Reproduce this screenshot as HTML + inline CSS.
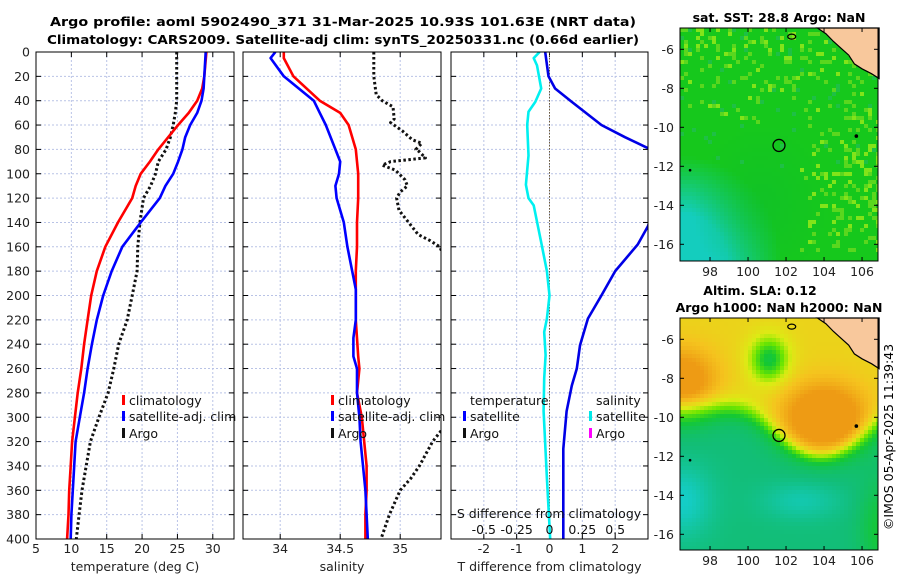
<!DOCTYPE html>
<html><head><meta charset="utf-8"><style>
html,body{margin:0;padding:0;background:#fff;}
svg{display:block;font-family:"DejaVu Sans","Liberation Sans",sans-serif;}
</style></head><body>
<svg id="fig" width="900" height="580" viewBox="0 0 900 580" xmlns="http://www.w3.org/2000/svg">
<text x="343" y="26" text-anchor="middle" font-size="12.5" font-weight="bold" textLength="586" lengthAdjust="spacingAndGlyphs">Argo profile: aoml 5902490_371 31-Mar-2025 10.93S 101.63E (NRT data)</text>
<text x="343" y="44" text-anchor="middle" font-size="12.5" font-weight="bold" textLength="592" lengthAdjust="spacingAndGlyphs">Climatology: CARS2009. Satellite-adj clim: synTS_20250331.nc (0.66d earlier)</text>
<text x="779" y="22" text-anchor="middle" font-size="12.5" font-weight="bold">sat. SST: 28.8 Argo: NaN</text>
<text x="760" y="295" text-anchor="middle" font-size="12.5" font-weight="bold">Altim. SLA: 0.12</text>
<text x="779" y="312" text-anchor="middle" font-size="12.5" font-weight="bold">Argo h1000: NaN h2000: NaN</text>
<text transform="translate(893,437) rotate(-90)" text-anchor="middle" font-size="12.5">©IMOS 05-Apr-2025 11:39:43</text>
<g id="layer"></g>
</svg>
<script>
// ---------- data (depth in m) ----------
const depthT = [0,20,30,40,50,60,70,80,90,100,110,120,140,160,180,200,220,240,260,280,300,320,340,360,380,400];
const tempClim = [29.1,28.8,28.5,27.8,26.6,25.1,23.7,22.3,21.1,19.8,19.1,18.6,16.6,14.8,13.6,12.8,12.3,11.8,11.4,10.9,10.5,10.1,9.9,9.7,9.6,9.4];
const tempSat  = [29.0,28.8,28.7,28.4,27.8,26.8,26.1,25.7,25.1,24.4,23.3,22.5,19.8,17.2,15.7,14.5,13.6,12.9,12.3,11.8,11.2,10.6,10.4,10.2,10.0,9.9];
const tempArgo = [24.9,24.9,24.9,24.9,24.7,24.4,24.0,23.4,22.3,21.9,21.2,20.2,19.7,19.4,19.3,18.6,17.9,16.7,16.0,15.2,13.9,12.7,12.1,11.5,11.1,10.7];

const depthS = [0,5,20,40,50,60,80,90,100,110,120,140,160,180,195,210,220,235,250,260,280,300,320,340,360,380,400];
const salClim = [34.03,34.03,34.11,34.33,34.50,34.57,34.63,34.64,34.65,34.65,34.65,34.64,34.64,34.63,34.63,34.63,34.63,34.64,34.65,34.66,34.64,34.68,34.70,34.72,34.72,34.71,34.71];
const salSat  = [33.96,33.92,34.03,34.28,34.33,34.38,34.46,34.50,34.49,34.46,34.47,34.53,34.56,34.60,34.63,34.63,34.63,34.61,34.61,34.64,34.64,34.66,34.67,34.69,34.71,34.72,34.73];

const depthSA = [0,20,35,40,45,55,58,65,72,75,80,82,87,90,93,97,105,110,115,120,125,130,140,150,155,160,200,260,310,320,340,350,360,380,400];
const salArgo = [34.78,34.78,34.80,34.85,34.94,34.95,34.92,35.02,35.10,35.18,35.13,35.16,35.21,34.92,34.85,34.96,35.04,35.06,35.00,34.97,34.98,34.99,35.07,35.15,35.25,35.33,35.50,35.60,35.35,35.27,35.16,35.09,35.00,34.91,34.84];

const depthD = [0,20,30,41,60,70,79,90,143,158,180,200,219,241,260,274,295,326,400];
const tempDiffSat = [-0.13,-0.03,0.17,0.68,1.58,2.3,3.0,3.6,3.0,2.69,2.0,1.58,1.17,0.93,0.83,0.68,0.52,0.42,0.42];
const depthDS = [0,5,11,30,41,49,60,85,109,120,126,158,180,200,219,230,249,268,295,350,400];
const salDiffSat = [-0.075,-0.12,-0.095,-0.063,-0.108,-0.16,-0.17,-0.16,-0.18,-0.16,-0.12,-0.06,-0.02,0,-0.02,-0.04,-0.03,-0.04,-0.045,-0.02,0.005];

const depthTicks = [0,20,40,60,80,100,120,140,160,180,200,220,240,260,280,300,320,340,360,380,400];
const tempTicks = [5,10,15,20,25,30];
const salTicks = [34,34.5,35];
const tdTicks = [-2,-1,0,1,2];
const sdTicks = [-0.5,-0.25,0,0.25,0.5];
const sdTickLabels = ['-0.5','-0.25','0','0.25','0.5'];
const lonTicks = [98,100,102,104,106];
const latTicks = [-6,-8,-10,-12,-14,-16];

// ---------- helpers ----------
const NS='http://www.w3.org/2000/svg';
const layer=document.getElementById('layer');
function mk(tag,attrs,parent){const e=document.createElementNS(NS,tag);for(const k in attrs)e.setAttribute(k,attrs[k]);(parent||layer).appendChild(e);return e;}
const Y0=52,Y1=539;
const yD=d=>Y0+(d/400)*(Y1-Y0);
function lin(d0,d1,r0,r1){return v=>r0+(v-d0)/(d1-d0)*(r1-r0);}
const P1={x0:36,x1:234},P2={x0:243,x1:441},P3={x0:451,x1:648};
const xT=lin(5,33,P1.x0,P1.x1);
const xS=lin(33.69,35.34,P2.x0,P2.x1);
const xTD=lin(-3,3,P3.x0,P3.x1);
const xSD=lin(-0.75,0.75,P3.x0,P3.x1);

function panel(P,name,xs,ticks,labels,title,clipId){
  const g=mk('g',{});
  
  
  const cp=mk('clipPath',{id:clipId},g);mk('rect',{x:P.x0,y:Y0,width:P.x1-P.x0,height:Y1-Y0},cp);
  depthTicks.forEach(d=>{
    const l=mk('line',{x1:P.x0,x2:P.x1,y1:yD(d),y2:yD(d),stroke:'#b9c3e6','stroke-width':1,'stroke-dasharray':'2,2'},g);
    
    
    mk('line',{x1:P.x0,x2:P.x0+5,y1:yD(d),y2:yD(d),stroke:'#000'},g);
    mk('line',{x1:P.x1-5,x2:P.x1,y1:yD(d),y2:yD(d),stroke:'#000'},g);
  });
  ticks.forEach((t,i)=>{
    const x=xs(t);
    const l=mk('line',{x1:x,x2:x,y1:Y0,y2:Y1,stroke:'#b9c3e6','stroke-width':1,'stroke-dasharray':'2,2'},g);
    
    
    mk('line',{x1:x,x2:x,y1:Y1-5,y2:Y1,stroke:'#000'},g);
    mk('line',{x1:x,x2:x,y1:Y0,y2:Y0+5,stroke:'#000'},g);
    const tx=mk('text',{x:x,y:553,'text-anchor':'middle','font-size':12.5,fill:'#222'},g);
    tx.textContent=labels?labels[i]:String(t);
    
    
  });
  const at=mk('text',{x:(P.x0+P.x1)/2,y:571,'text-anchor':'middle','font-size':12.5,fill:'#222'},g);
  at.textContent=title;
  
  
  return g;
}
function pathFrom(xs,vals,depths){return vals.map((v,i)=>(i?'L':'M')+xs(v).toFixed(1)+','+yD(depths[i]).toFixed(1)).join(' ');}
function series(g,clip,xs,vals,depths,color,name,dash,w){
  const p=mk('path',{d:pathFrom(xs,vals,depths),fill:'none',stroke:color,'stroke-width':w||2.6,'clip-path':'url(#'+clip+')','stroke-linejoin':'round'},g);
  if(dash)p.setAttribute('stroke-dasharray',dash);
  
  
}
function frame(g,P){const r=mk('rect',{x:P.x0,y:Y0,width:P.x1-P.x0,height:Y1-Y0,fill:'none',stroke:'#000','stroke-width':1},g);
  
  }
function legendRow(g,x,y,color,label,name){
  if(color){mk('rect',{x:x,y:y-10,width:3,height:10,fill:color},g);}
  const t=mk('text',{x:x+(color?7:0),y:y,'font-size':12.5,fill:'#111'},g);t.textContent=label;
  
  
}

// y labels
depthTicks.forEach(d=>{
  const t=mk('text',{x:30,y:yD(d)+4.5,'text-anchor':'end','font-size':12.5,fill:'#222'});
  t.textContent=String(d);
  
  
});

// panel 1
const g1=panel(P1,'temperature-panel',xT,tempTicks,null,'temperature (deg C)','c1');
series(g1,'c1',xT,tempArgo,depthT,'#111','argo-temperature-line','2.5,2.5',3);
series(g1,'c1',xT,tempClim,depthT,'#ff0000','climatology-temperature-line');
series(g1,'c1',xT,tempSat,depthT,'#0000ff','satellite-temperature-line');
frame(g1,P1);
legendRow(g1,122,405,'#ff0000','climatology','legend-climatology');
legendRow(g1,122,421,'#0000ff','satellite-adj. clim','legend-satellite');
legendRow(g1,122,438,'#111','Argo','legend-argo');

// panel 2
const g2=panel(P2,'salinity-panel',xS,salTicks,['34','34.5','35'],'salinity','c2');
series(g2,'c2',xS,salArgo,depthSA,'#111','argo-salinity-line','2.5,2.5',3);
series(g2,'c2',xS,salClim,depthS,'#ff0000','climatology-salinity-line');
series(g2,'c2',xS,salSat,depthS,'#0000ff','satellite-salinity-line');
frame(g2,P2);
legendRow(g2,331,405,'#ff0000','climatology','legend-climatology');
legendRow(g2,331,421,'#0000ff','satellite-adj. clim','legend-satellite');
legendRow(g2,331,438,'#111','Argo','legend-argo');

// panel 3
const g3=panel(P3,'difference-panel',xTD,tdTicks,null,'T difference from climatology','c3');
const zl=mk('line',{x1:xTD(0),x2:xTD(0),y1:Y0,y2:Y1,stroke:'#6b5a3a','stroke-width':1,'stroke-dasharray':'1.5,1.5'},g3);


series(g3,'c3',xSD,salDiffSat,depthDS,'#00f0f0','salinity-difference-line');
series(g3,'c3',xTD,tempDiffSat,depthD,'#0000e6','temperature-difference-line');
frame(g3,P3);
legendRow(g3,470,405,null,'temperature','legend-temperature-header');
legendRow(g3,463,421,'#0000ff','satellite','legend-temp-satellite');
legendRow(g3,463,438,'#111','Argo','legend-temp-argo');
legendRow(g3,596,405,null,'salinity','legend-salinity-header');
legendRow(g3,589,421,'#00e8e8','satellite','legend-sal-satellite');
legendRow(g3,589,438,'#ff00ff','Argo','legend-sal-argo');
const st=mk('text',{x:549,y:518,'text-anchor':'middle','font-size':12.5,fill:'#111'},g3);
st.textContent='S difference from climatology';


sdTicks.forEach((v,i)=>{
  const t=mk('text',{x:xSD(v),y:534,'text-anchor':'middle','font-size':12.5,fill:'#111'},g3);
  t.textContent=sdTickLabels[i];
  
  
});

// ---------- maps ----------
function hash(i,j){let h=(i*374761393+j*668265263)^0x5bd1e995;h=(h^(h>>>13))*1274126177;h=h^(h>>>16);return (h>>>0)/4294967295;}
function mix(a,b,t){t=Math.max(0,Math.min(1,t));return [a[0]+(b[0]-a[0])*t,a[1]+(b[1]-a[1])*t,a[2]+(b[2]-a[2])*t];}
function rgb(c){return 'rgb('+c.map(v=>Math.round(v)).join(',')+')';}
function buildMap(M,name,colorFn){
  const g=mk('g',{});
  
  
  const cs=4;
  for(let y=M.y0;y<M.y1;y+=cs){for(let x=M.x0;x<M.x1;x+=cs){
    const u=(x-M.x0)/(M.x1-M.x0),v=(y-M.y0)/(M.y1-M.y0);
    mk('rect',{x:x,y:y,width:Math.min(cs,M.x1-x),height:Math.min(cs,M.y1-y),fill:colorFn(u,v,x,y)},g);
  }}
  const lonX=lin(96.42,106.84,M.x0,M.x1);
  const latY=lat=>M.yA+(-6-lat)*19.5;
  const land=[[103.65,-4.8],[106.9,-4.8],[106.9,-7.5],[106.5,-7.25],[106.0,-7.0],[105.6,-6.75],[105.3,-6.3],[104.9,-5.95],[104.5,-5.6],[104.1,-5.2]];
  const lp=mk('polygon',{points:land.map(p=>lonX(p[0]).toFixed(1)+','+Math.max(M.y0,latY(p[1])).toFixed(1)).join(' '),fill:'#f8c89c',stroke:'#000','stroke-width':1.2},g);
  
  
  mk('ellipse',{cx:lonX(102.3),cy:latY(-5.35),rx:4,ry:2.5,fill:'none',stroke:'#000','stroke-width':1.2},g);
  const c=mk('circle',{cx:lonX(101.63),cy:latY(-10.93),r:6,fill:'none',stroke:'#000','stroke-width':1.3},g);
  
  
  mk('circle',{cx:lonX(105.7),cy:latY(-10.45),r:1.8,fill:'#000'},g);
  mk('circle',{cx:lonX(96.95),cy:latY(-12.2),r:1.3,fill:'#000'},g);
  mk('rect',{x:M.x0,y:M.y0,width:M.x1-M.x0,height:M.y1-M.y0,fill:'none',stroke:'#000','stroke-width':1},g);
  lonTicks.forEach(l=>{const x=lonX(l);
    mk('line',{x1:x,x2:x,y1:M.y1-4,y2:M.y1,stroke:'#000'},g);
    mk('line',{x1:x,x2:x,y1:M.y0,y2:M.y0+4,stroke:'#000'},g);
    const t=mk('text',{x:x,y:M.y1+15,'text-anchor':'middle','font-size':12.5,fill:'#222'},g);t.textContent=String(l);
    
    });
  latTicks.forEach(l=>{const y=latY(l);
    mk('line',{x1:M.x0,x2:M.x0+4,y1:y,y2:y,stroke:'#000'},g);
    mk('line',{x1:M.x1-4,x2:M.x1,y1:y,y2:y,stroke:'#000'},g);
    const t=mk('text',{x:M.x0-6,y:y+4.5,'text-anchor':'end','font-size':12.5,fill:'#222'},g);t.textContent=String(l);
    
    });
}
// SST map
buildMap({x0:680,x1:878,y0:28,y1:261,yA:49.3},'sst-map',(u,v,x,y)=>{
  const i=Math.round(x/4),j=Math.round(y/4),r=hash(i,j);
  let c=[22,200,28];
  const d=Math.hypot(u*1.1,(1-v)*1.2);
  c=mix(c,[20,205,190],(0.55-d)/0.3);
  const dark=Math.max(0,1-Math.hypot(u-0.4,v-0.75)/0.35);
  c=mix(c,[14,190,45],dark*0.6);
  let p=0;
  if(v<0.4)p=0.22*(1-v/0.4)+0.06;
  if(u>0.6&&v>0.35&&v<0.95)p=Math.max(p,0.3*(u-0.6)/0.4+0.05);
  if(u>0.75&&v<0.3)p=Math.max(p,0.2);
  if(r<p){c=hash(j,i)<0.6?[90,215,30]:[130,228,25];}
  else if(r>0.97&&v<0.6)c=[30,192,70];
  return rgb(c);
});
// SLA map
buildMap({x0:680,x1:878,y0:318,y1:550,yA:339.3},'sla-map',(u,v,x,y)=>{
  const G=(cx,cy,sx,sy)=>Math.exp(-(((u-cx)/sx)**2+((v-cy)/sy)**2));
  let f=0.12;
  const top=1/(1+Math.exp((v-0.36-0.12*G(0.7,0.45,0.25,0.3)*2.2)/0.03));
  f+=0.55*top;
  f+=0.55*G(0.72,0.42,0.2,0.14);
  f+=0.45*G(0.0,0.27,0.17,0.14);
  f-=0.45*G(0.44,0.17,0.1,0.1);
  f-=0.12*G(0.0,0.78,0.15,0.15);
  f-=0.08*G(0.6,0.78,0.2,0.08);
  f+=0.12*G(1,0.9,0.1,0.2);
  const stops=[[0.0,[20,205,200]],[0.12,[18,190,120]],[0.25,[20,200,50]],[0.4,[110,230,0]],[0.55,[220,235,20]],[0.75,[245,195,30]],[0.95,[238,155,20]]];
  let c=stops[0][1];
  for(let k=1;k<stops.length;k++){if(f<=stops[k][0]){c=mix(stops[k-1][1],stops[k][1],(f-stops[k-1][0])/(stops[k][0]-stops[k-1][0]));break;}c=stops[k][1];}
  return rgb(c);
});
</script>
</body></html>
